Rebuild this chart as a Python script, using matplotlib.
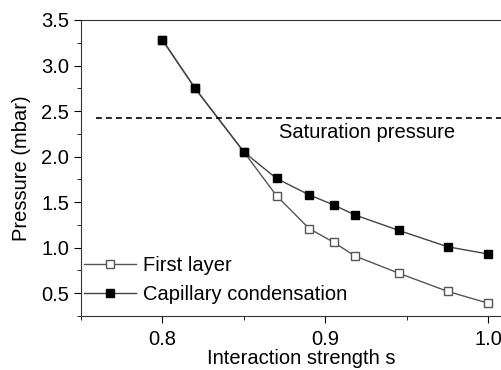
import matplotlib
matplotlib.use('Agg')
import matplotlib.pyplot as plt
from matplotlib.ticker import MultipleLocator

plt.rcParams['font.family'] = ['Liberation Sans', 'DejaVu Sans']

# interaction strength s and pressures (mbar)
s_cap = [0.80, 0.82, 0.85, 0.87, 0.89, 0.905, 0.918, 0.945, 0.975, 1.00]
p_cap = [3.28, 2.75, 2.05, 1.76, 1.58, 1.47, 1.36, 1.19, 1.01, 0.93]
s_first = [0.80, 0.82, 0.85, 0.87, 0.89, 0.905, 0.918, 0.945, 0.975, 1.00]
p_first = [3.28, 2.75, 2.05, 1.57, 1.21, 1.06, 0.91, 0.72, 0.52, 0.39]
p_sat = 2.42

fs = 14.5
fig = plt.figure(figsize=(5.02, 3.70), dpi=100)
ax = fig.add_axes([81 / 502, 54 / 370, 440 / 502, 296 / 370])

ax.plot(s_first, p_first, '-s', color='#555555', lw=1, ms=6,
        mfc='white', mec='#555555', mew=1, label='First layer')
ax.plot(s_cap, p_cap, '-s', color='#444444', lw=1, ms=6,
        mfc='black', mec='black', label='Capillary condensation')
ax.axhline(p_sat, xmin=0.033, color='black', ls=(0, (3.5, 2.5)), lw=1.2)
ax.text(0.9255, 2.27, 'Saturation pressure', ha='center', va='center', fontsize=fs)

ax.set_xlim(0.75, 1.02)
ax.set_ylim(0.25, 3.5)
ax.xaxis.set_major_locator(MultipleLocator(0.1))
ax.xaxis.set_minor_locator(MultipleLocator(0.05))
ax.yaxis.set_major_locator(MultipleLocator(0.5))
ax.yaxis.set_minor_locator(MultipleLocator(0.25))
ax.tick_params(which='major', direction='out', length=5, labelsize=fs, top=False, right=False)
ax.tick_params(axis='x', which='major', pad=5)
ax.tick_params(which='minor', direction='out', length=3, top=False, right=False)
ax.set_xlabel('Interaction strength s', fontsize=fs, labelpad=0)
ax.set_ylabel('Pressure (mbar)', fontsize=fs, labelpad=7)
for sp in ax.spines.values():
    sp.set_color('#333333')

ax.legend(loc='lower left', bbox_to_anchor=(-0.035, -0.02), frameon=False,
          fontsize=fs, handlelength=2.6, handletextpad=0.35, labelspacing=0.5)

fig.savefig('out.png', dpi=100)
